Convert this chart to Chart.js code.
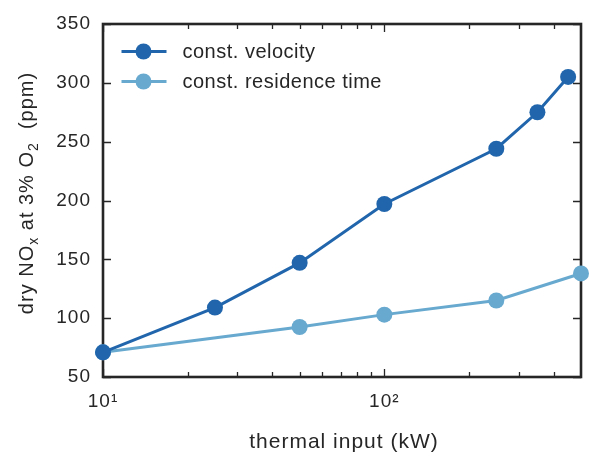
<!DOCTYPE html>
<html>
<head>
<meta charset="utf-8">
<script src="https://cdn.jsdelivr.net/npm/chart.js@4.4.1/dist/chart.umd.min.js"></script>
<style>
  body { margin: 0; background: #fff; }
  #wrap { width: 589px; height: 460px; }
</style>
</head>
<body>
<div id="wrap"><canvas id="noxChart" width="589" height="460"></canvas></div>
<script>
// thermal input (kW) and dry NOx at 3% O2 (ppm)
const velocityInput = [10, 25, 50, 100, 250, 350, 450];
const velocityNox = [71, 109, 147, 197, 244, 275, 305];
const residenceInput = [10, 50, 100, 250, 500];
const residenceNox = [71, 92.5, 103, 115, 138];

const yTicks = [50, 100, 150, 200, 250, 300, 350];
const xMajorTicks = [10, 100];
const xMinorTicks = [20, 30, 40, 50, 60, 70, 80, 90, 200, 300, 400];
const xTickLabels = { 10: '10¹', 100: '10²' };

const ink = '#262626';
const fontFamily = '"Liberation Sans", Arial, Helvetica, sans-serif';

const frame = {
    id: 'frame',
    beforeDraw(chart) {
        // matplotlib text renders a bit wider than Liberation Sans
        chart.ctx.letterSpacing = '1px';
    },
    beforeDatasetsDraw(chart) {
        const { ctx, chartArea: a, scales: { x, y } } = chart;
        ctx.save();
        ctx.strokeStyle = ink;
        ctx.lineWidth = 1.3;
        ctx.beginPath();
        const xTick = (v, len) => {
            const px = Math.round(x.getPixelForValue(v)) + 0.5;
            ctx.moveTo(px, a.bottom); ctx.lineTo(px, a.bottom - len);
            ctx.moveTo(px, a.top); ctx.lineTo(px, a.top + len);
        };
        xMajorTicks.forEach(v => xTick(v, 8));
        xMinorTicks.forEach(v => xTick(v, 5));
        yTicks.forEach(v => {
            const py = Math.round(y.getPixelForValue(v)) + 0.5;
            ctx.moveTo(a.left, py); ctx.lineTo(a.left + 8, py);
            ctx.moveTo(a.right, py); ctx.lineTo(a.right - 8, py);
        });
        ctx.stroke();
        ctx.lineWidth = 2.6;
        ctx.strokeRect(a.left, a.top, a.right - a.left, a.bottom - a.top);

        // axis titles
        ctx.fillStyle = ink;
        ctx.letterSpacing = '1px';
        ctx.font = '21px ' + fontFamily;
        ctx.textAlign = 'center';
        ctx.textBaseline = 'alphabetic';
        ctx.fillText('thermal input (kW)', (a.left + a.right) / 2 + 2, 448);

        const parts = [
            ['dry NO', false], ['x', true], [' at 3% O', false], ['2', true], ['  (ppm)', false]
        ];
        const big = '20px ' + fontFamily, small = '14px ' + fontFamily;
        let total = 0;
        parts.forEach(([t, sub]) => { ctx.font = sub ? small : big; total += ctx.measureText(t).width; });
        ctx.translate(33, 193);
        ctx.rotate(-Math.PI / 2);
        ctx.textAlign = 'left';
        let cx = -total / 2;
        parts.forEach(([t, sub]) => {
            ctx.font = sub ? small : big;
            ctx.fillText(t, cx, sub ? 5 : 0);
            cx += ctx.measureText(t).width;
        });
        ctx.restore();
    },
    afterDatasetsDraw(chart) {
        const { ctx, chartArea: a } = chart;
        ctx.save();
        chart.data.datasets.forEach((ds, i) => {
            const ly = a.top + 27.5 + i * 30;
            ctx.strokeStyle = ds.borderColor;
            ctx.lineWidth = 3;
            ctx.beginPath();
            ctx.moveTo(a.left + 18.5, ly); ctx.lineTo(a.left + 63.5, ly);
            ctx.stroke();
            ctx.fillStyle = ds.pointBackgroundColor;
            ctx.beginPath();
            ctx.arc(a.left + 40.5, ly, 8, 0, Math.PI * 2);
            ctx.fill();
            ctx.fillStyle = ink;
            ctx.letterSpacing = '0.5px';
            ctx.font = '20px ' + fontFamily;
            ctx.textBaseline = 'middle';
            ctx.fillText(ds.label, a.left + 79.5, ly + 1);
        });
        ctx.restore();
    }
};

new Chart(document.getElementById('noxChart'), {
    type: 'line',
    data: {
        datasets: [{
            label: 'const. velocity',
            data: velocityInput.map((v, i) => ({ x: v, y: velocityNox[i] })),
            borderColor: '#2166ac',
            pointBackgroundColor: '#2166ac',
            borderWidth: 3,
            pointRadius: 8,
            pointBorderWidth: 0,
            clip: false
        }, {
            label: 'const. residence time',
            data: residenceInput.map((v, i) => ({ x: v, y: residenceNox[i] })),
            borderColor: '#67a9cf',
            pointBackgroundColor: '#67a9cf',
            borderWidth: 3,
            pointRadius: 8,
            pointBorderWidth: 0,
            clip: false
        }]
    },
    options: {
        responsive: false,
        animation: false,
        layout: { padding: { top: 24, right: 8, left: 0, bottom: 0 } },
        plugins: { legend: { display: false }, tooltip: { enabled: false } },
        scales: {
            x: {
                type: 'logarithmic',
                min: 10,
                max: 500,
                grid: { display: false, drawTicks: false },
                border: { display: false },
                afterBuildTicks: scale => { scale.ticks = xMajorTicks.map(v => ({ value: v })); },
                afterFit: scale => { scale.height = 83; },
                ticks: {
                    autoSkip: false,
                    maxRotation: 0,
                    padding: 13,
                    color: ink,
                    font: { family: fontFamily, size: 19 },
                    callback: v => xTickLabels[v] || ''
                }
            },
            y: {
                min: 50,
                max: 350,
                grid: { display: false, drawTicks: false },
                border: { display: false },
                afterBuildTicks: scale => { scale.ticks = yTicks.map(v => ({ value: v })); },
                afterFit: scale => { scale.width = 103; },
                ticks: {
                    padding: 12,
                    color: ink,
                    font: { family: fontFamily, size: 19 }
                }
            }
        }
    },
    plugins: [frame]
});
</script>
</body>
</html>
